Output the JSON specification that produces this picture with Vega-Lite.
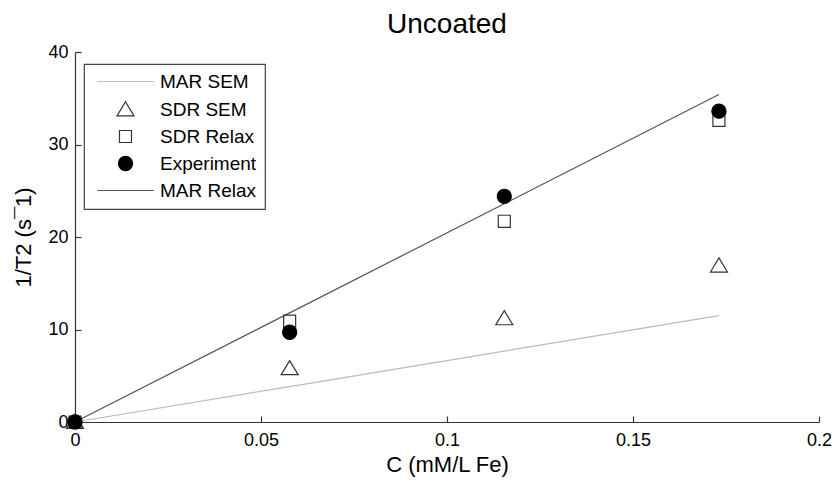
{
  "$schema": "https://vega.github.io/schema/vega-lite/v6.json",
  "width": 744,
  "height": 370,
  "autosize": {"type": "none"},
  "padding": {"left": 75, "top": 52, "right": 19, "bottom": 67},
  "background": "white",
  "config": {
    "view": {"stroke": null},
    "font": "Liberation Sans",
    "axis": {
      "grid": false,
      "domainColor": "#333333",
      "tickColor": "#333333",
      "labelColor": "#000000",
      "titleColor": "#000000",
      "labelFont": "Liberation Sans",
      "titleFont": "Liberation Sans",
      "labelFontSize": 18,
      "titleFontSize": 22,
      "titleFontWeight": "normal",
      "tickSize": -6,
      "domainWidth": 1.2,
      "tickWidth": 1.2
    },
    "legend": {
      "orient": "none",
      "legendX": 9,
      "legendY": 12,
      "padding": 8,
      "strokeColor": "#444444",
      "strokeWidth": 1.2,
      "fillColor": "white",
      "labelFont": "Liberation Sans",
      "labelFontSize": 19,
      "labelColor": "#000000",
      "symbolSize": 200,
      "symbolStrokeWidth": 1.2,
      "symbolOffset": 24,
      "labelOffset": 25,
      "rowPadding": 7
    }
  },
  "title": {
    "text": "Uncoated",
    "fontSize": 28,
    "fontWeight": "normal",
    "font": "Liberation Sans",
    "color": "#000000",
    "offset": 4,
    "anchor": "middle"
  },
  "data": {
    "values": [
      {"series": "MAR SEM", "c": 0, "r": 0},
      {"series": "MAR SEM", "c": 0.0577, "r": 3.83},
      {"series": "MAR SEM", "c": 0.1154, "r": 7.67},
      {"series": "MAR SEM", "c": 0.1731, "r": 11.5},
      {"series": "MAR Relax", "c": 0, "r": 0},
      {"series": "MAR Relax", "c": 0.0577, "r": 11.8},
      {"series": "MAR Relax", "c": 0.1154, "r": 23.6},
      {"series": "MAR Relax", "c": 0.1731, "r": 35.4},
      {"series": "SDR SEM", "c": 0, "r": 0},
      {"series": "SDR SEM", "c": 0.0577, "r": 5.8},
      {"series": "SDR SEM", "c": 0.1154, "r": 11.2},
      {"series": "SDR SEM", "c": 0.1731, "r": 16.9},
      {"series": "SDR Relax", "c": 0, "r": 0},
      {"series": "SDR Relax", "c": 0.0577, "r": 10.9},
      {"series": "SDR Relax", "c": 0.1154, "r": 21.7},
      {"series": "SDR Relax", "c": 0.1731, "r": 32.6},
      {"series": "Experiment", "c": 0, "r": 0},
      {"series": "Experiment", "c": 0.0577, "r": 9.7},
      {"series": "Experiment", "c": 0.1154, "r": 24.4},
      {"series": "Experiment", "c": 0.1731, "r": 33.6}
    ]
  },
  "encoding": {
    "x": {
      "field": "c",
      "type": "quantitative",
      "scale": {"domain": [0, 0.2], "nice": false, "zero": true},
      "axis": {
        "values": [0, 0.05, 0.1, 0.15, 0.2],
        "format": "~g",
        "labelPadding": 15,
        "titlePadding": 5,
        "labelFlush": false,
        "labelOverlap": false
      },
      "title": "C (mM/L Fe)"
    },
    "y": {
      "field": "r",
      "type": "quantitative",
      "scale": {"domain": [0, 40], "nice": false},
      "axis": {
        "values": [0, 10, 20, 30, 40],
        "labelPadding": 13,
        "titlePadding": 12,
        "labelFlush": false,
        "labelOverlap": false
      },
      "title": "1/T2 (s¯1)"
    }
  },
  "layer": [
    {
      "transform": [{"filter": {"field": "series", "oneOf": ["MAR SEM", "MAR Relax"]}}],
      "mark": {"type": "line", "strokeWidth": 1.2},
      "encoding": {
        "stroke": {
          "field": "series",
          "type": "nominal",
          "scale": {
            "domain": ["MAR SEM", "SDR SEM", "SDR Relax", "Experiment", "MAR Relax"],
            "range": ["#bbbbbb", "#333333", "#333333", "#000000", "#555555"]
          },
          "legend": {"title": null}
        }
      }
    },
    {
      "transform": [{"filter": {"field": "series", "oneOf": ["SDR SEM", "SDR Relax", "Experiment"]}}],
      "mark": {"type": "point", "size": 200, "strokeWidth": 1.2, "opacity": 1},
      "encoding": {
        "stroke": {
          "field": "series",
          "type": "nominal",
          "scale": {
            "domain": ["MAR SEM", "SDR SEM", "SDR Relax", "Experiment", "MAR Relax"],
            "range": ["#bbbbbb", "#333333", "#333333", "#000000", "#555555"]
          },
          "legend": {"title": null}
        },
        "fill": {
          "field": "series",
          "type": "nominal",
          "scale": {
            "domain": ["MAR SEM", "SDR SEM", "SDR Relax", "Experiment", "MAR Relax"],
            "range": ["transparent", "transparent", "transparent", "#000000", "transparent"]
          },
          "legend": {"title": null}
        },
        "shape": {
          "field": "series",
          "type": "nominal",
          "scale": {
            "domain": ["MAR SEM", "SDR SEM", "SDR Relax", "Experiment", "MAR Relax"],
            "range": [
              "M-4,0H4",
              "M0,-1.1L1.2,0.9L-1.2,0.9Z",
              "M-0.85,-0.85H0.85V0.85H-0.85Z",
              "M-1,0A1,1,0,1,1,1,0A1,1,0,1,1,-1,0Z",
              "M-4,0H4"
            ]
          },
          "legend": {"title": null}
        }
      }
    }
  ]
}
